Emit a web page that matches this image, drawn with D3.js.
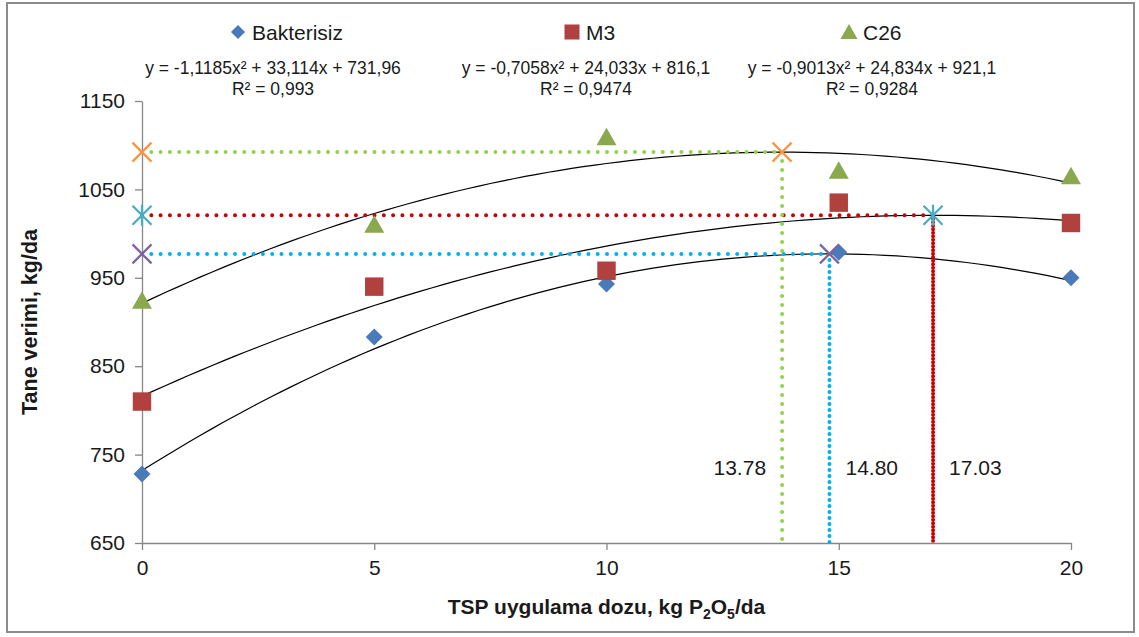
<!DOCTYPE html>
<html>
<head>
<meta charset="utf-8">
<script src="https://cdn.jsdelivr.net/npm/d3@7"></script>
<style>
  body { margin: 0; background: #fff; }
  text { font-family: "Liberation Sans", Arial, sans-serif; fill: #1a1a1a; }
</style>
</head>
<body>
<script>
// doses and yields
var doses = [0, 5, 10, 15, 20];
var bakterisiz = [728, 883, 943, 979, 950];
var m3 = [810, 940, 958, 1035, 1012];
var c26 = [924, 1010, 1109, 1071, 1065];

// trend line coefficients [a, b, c] for y = a x^2 + b x + c
var fitBakterisiz = [-1.1185, 33.114, 731.96];
var fitM3 = [-0.7058, 24.033, 816.1];
var fitC26 = [-0.9013, 24.834, 921.1];

var equations = ["y = -1,1185x² + 33,114x + 731,96", "y = -0,7058x² + 24,033x + 816,1", "y = -0,9013x² + 24,834x + 921,1"];
var r2Labels = ["R² = 0,993", "R² = 0,9474", "R² = 0,9284"];
var seriesNames = ["Bakterisiz", "M3", "C26"];

// optimum doses and yields
var optDose = [14.80, 17.03, 13.78];
var optYield = [977, 1020.7, 1092.2];
var optLabels = ["14.80", "17.03", "13.78"];

var xTicks = [0, 5, 10, 15, 20];
var yTicks = [650, 750, 850, 950, 1050, 1150];

var W = 1139, H = 637;
var margin = {top: 101, right: 68, bottom: 94, left: 142};
var width = W - margin.left - margin.right,
    height = H - margin.top - margin.bottom;

var markerColors = ["#4a7ab8", "#b0413e", "#8aa84e"];
var dotColors = ["#00b0f0", "#cc0000", "#92d050"];
var crossColors = ["#8064a2", "#4bacc6", "#f79646"];

var svg = d3.select("body").append("svg")
  .attr("width", W).attr("height", H);

// outer frame
svg.append("rect")
  .attr("x", 7).attr("y", 3)
  .attr("width", 1127).attr("height", 629)
  .attr("fill", "#fff")
  .attr("stroke", "#8c8c8c")
  .attr("stroke-width", 2);

var g = svg.append("g")
  .attr("transform", "translate(" + margin.left + "," + margin.top + ")");

var x = d3.scaleLinear().domain([0, 20]).range([0, width]);
var y = d3.scaleLinear().domain([650, 1150]).range([height, 0]);

// axes
var xAxis = g.append("g")
  .attr("transform", "translate(0," + height + ")")
  .call(d3.axisBottom(x).tickValues(xTicks).tickFormat(d3.format("d")).tickSize(7).tickSizeOuter(0).tickPadding(10));
var yAxis = g.append("g")
  .call(d3.axisLeft(y).tickValues(yTicks).tickFormat(d3.format("d")).tickSize(7).tickSizeOuter(0).tickPadding(10));

[xAxis, yAxis].forEach(function(a) {
  a.selectAll("path, line").attr("stroke", "#868686").attr("stroke-width", 1.3);
  a.selectAll("text")
    .style("font-family", "Liberation Sans, Arial, sans-serif")
    .style("font-size", "21px")
    .attr("fill", "#1a1a1a");
});

// trend lines
var fits = [fitBakterisiz, fitM3, fitC26];
var trendLine = d3.line()
  .x(function(d) { return x(d[0]); })
  .y(function(d) { return y(d[1]); });

fits.forEach(function(f) {
  var pts = d3.range(0, 20.001, 0.25).map(function(v) {
    return [v, f[0] * v * v + f[1] * v + f[2]];
  });
  g.append("path")
    .attr("d", trendLine(pts))
    .attr("fill", "none")
    .attr("stroke", "#000")
    .attr("stroke-width", 1.2);
});

// dotted guide lines to optimum
var dotGaps = [6, 3.5, 9];
optDose.forEach(function(d, i) {
  g.append("line")
    .attr("x1", x(0)).attr("x2", x(d))
    .attr("y1", y(optYield[i])).attr("y2", y(optYield[i]))
    .attr("stroke", dotColors[i])
    .attr("stroke-width", 4)
    .attr("stroke-linecap", "round")
    .attr("stroke-dasharray", "0 9.3");
  g.append("line")
    .attr("x1", x(d)).attr("x2", x(d))
    .attr("y1", y(optYield[i])).attr("y2", y(650))
    .attr("stroke", dotColors[i])
    .attr("stroke-width", 4)
    .attr("stroke-linecap", "round")
    .attr("stroke-dasharray", "0 " + dotGaps[i]);
});

// series markers
function diamond(sel, c) {
  sel.append("path")
    .attr("d", d3.symbol().type(d3.symbolSquare).size(145)())
    .attr("transform", function(d) { return "translate(" + x(d[0]) + "," + y(d[1]) + ") rotate(45)"; })
    .attr("fill", c);
}
function square(sel, c) {
  sel.append("path")
    .attr("d", d3.symbol().type(d3.symbolSquare).size(340)())
    .attr("transform", function(d) { return "translate(" + x(d[0]) + "," + y(d[1]) + ")"; })
    .attr("fill", c);
}
function triangle(sel, c) {
  sel.append("path")
    .attr("d", "M0,-9.5L10,8L-10,8Z")
    .attr("transform", function(d) { return "translate(" + x(d[0]) + "," + y(d[1]) + ")"; })
    .attr("fill", c);
}
var drawers = [diamond, square, triangle];
[bakterisiz, m3, c26].forEach(function(vals, i) {
  var pts = doses.map(function(d, j) { return [d, vals[j]]; });
  var sel = g.append("g").selectAll("g").data(pts).enter().append("g");
  drawers[i](sel, markerColors[i]);
});

// optimum cross markers (on the y axis and at the optimum)
function cross(px, py, c, star) {
  var s = 9.5;
  var p = "M" + (px - s) + "," + (py - s) + "L" + (px + s) + "," + (py + s) +
          "M" + (px - s) + "," + (py + s) + "L" + (px + s) + "," + (py - s);
  if (star) p += "M" + px + "," + (py - s - 1) + "L" + px + "," + (py + s + 1);
  g.append("path").attr("d", p)
    .attr("stroke", c).attr("stroke-width", 2.3).attr("fill", "none");
}
optDose.forEach(function(d, i) {
  cross(x(0), y(optYield[i]), crossColors[i], i === 1);
  cross(x(d), y(optYield[i]), crossColors[i], i === 1);
});

// optimum dose labels
var labelSide = [1, 1, -1];
optDose.forEach(function(d, i) {
  g.append("text")
    .attr("x", x(d) + labelSide[i] * 16)
    .attr("y", y(650) - 68)
    .attr("text-anchor", labelSide[i] > 0 ? "start" : "end")
    .style("font-size", "21px")
    .text(optLabels[i]);
});

// legend and equations
var legendX = [238, 572, 849];
var eqX = [273, 586, 872];
seriesNames.forEach(function(name, i) {
  var lg = svg.append("g").attr("transform", "translate(" + legendX[i] + ",32)");
  if (i === 0) lg.append("path").attr("d", d3.symbol().type(d3.symbolSquare).size(100)()).attr("transform", "rotate(45)").attr("fill", markerColors[0]);
  if (i === 1) lg.append("rect").attr("x", -7.5).attr("y", -7.5).attr("width", 15).attr("height", 15).attr("fill", markerColors[1]);
  if (i === 2) lg.append("path").attr("d", "M0,-8L8.5,7L-8.5,7Z").attr("fill", markerColors[2]);
  lg.append("text").attr("x", 14).attr("y", 8).style("font-size", "21px").text(name);

  svg.append("text").attr("x", eqX[i]).attr("y", 74)
    .attr("text-anchor", "middle").style("font-size", "17.5px").text(equations[i]);
  svg.append("text").attr("x", eqX[i]).attr("y", 95)
    .attr("text-anchor", "middle").style("font-size", "17.5px").text(r2Labels[i]);
});

// axis titles
svg.append("text")
  .attr("transform", "translate(37," + (margin.top + height / 2) + ") rotate(-90)")
  .attr("text-anchor", "middle")
  .style("font-size", "21.5px").style("font-weight", "bold")
  .text("Tane verimi, kg/da");

var xt = svg.append("text")
  .attr("x", margin.left + width / 2)
  .attr("y", 614)
  .attr("text-anchor", "middle")
  .style("font-size", "21px").style("font-weight", "bold");
xt.append("tspan").text("TSP uygulama dozu, kg P");
xt.append("tspan").attr("dy", 5).style("font-size", "14px").text("2");
xt.append("tspan").attr("dy", -5).text("O");
xt.append("tspan").attr("dy", 5).style("font-size", "14px").text("5");
xt.append("tspan").attr("dy", -5).text("/da");
</script>
</body>
</html>
